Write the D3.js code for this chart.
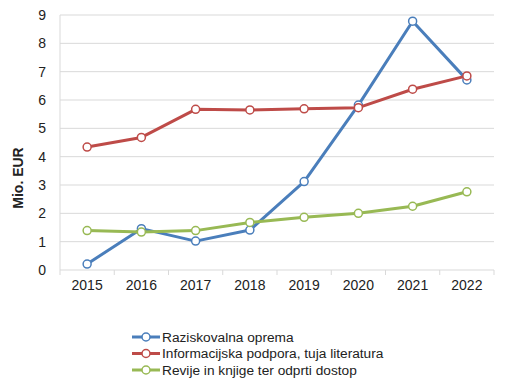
<!DOCTYPE html>
<html><head><meta charset="utf-8">
<script src="https://cdn.jsdelivr.net/npm/d3@7"></script>
<style>body{margin:0;background:#fff}svg{display:block}text{font-family:"Liberation Sans",Arial,sans-serif;fill:#222}</style>
</head><body><svg id="c" width="509" height="385"></svg>
<script>
const years = ["2015","2016","2017","2018","2019","2020","2021","2022"];
const seriesNames = ["Raziskovalna oprema","Informacijska podpora, tuja literatura","Revije in knjige ter odprti dostop"];
const raziskovalna = [0.21,1.46,1.02,1.41,3.12,5.82,8.78,6.71];
const informacijska = [4.34,4.68,5.67,5.65,5.69,5.73,6.38,6.85];
const revije = [1.39,1.34,1.39,1.68,1.86,2.00,2.25,2.76];
const yTicks = [0,1,2,3,4,5,6,7,8,9];
const colors = ["#4A7EBB","#BE4B48","#98B954"];

const svg = d3.select("#c");
const L=60,R=494,T=15,B=270;
const x = d3.scaleBand().domain(years).range([L,R]);
const y = d3.scaleLinear().domain([0,9]).range([B,T]);

svg.append("g").selectAll("line").data(yTicks.filter(d=>d>0)).join("line")
 .attr("x1",L).attr("x2",R).attr("y1",d=>y(d)).attr("y2",d=>y(d))
 .attr("stroke","#d9d9d9").attr("stroke-width",1);
svg.append("line").attr("x1",L).attr("x2",L).attr("y1",T).attr("y2",B).attr("stroke","#d9d9d9");
svg.append("line").attr("x1",L).attr("x2",R).attr("y1",B).attr("y2",B).attr("stroke","#d9d9d9");
svg.append("g").selectAll("line").data(d3.range(years.length+1)).join("line")
 .attr("x1",i=>L+i*x.bandwidth()).attr("x2",i=>L+i*x.bandwidth()).attr("y1",B).attr("y2",B+5)
 .attr("stroke","#d9d9d9");
svg.append("g").selectAll("text").data(yTicks).join("text")
 .attr("x",L-14).attr("y",d=>y(d)).attr("dy","0.35em").attr("text-anchor","end")
 .attr("font-size",14).text(d=>d);
svg.append("g").selectAll("text").data(years).join("text")
 .attr("x",d=>x(d)+x.bandwidth()/2).attr("y",B+20).attr("text-anchor","middle")
 .attr("font-size",14).text(d=>d);
svg.append("text").attr("transform","translate(23,178) rotate(-90)").attr("text-anchor","middle")
 .attr("font-weight","bold").attr("font-size",14).text("Mio. EUR");

const data=[raziskovalna,informacijska,revije];
const line=d3.line().x((d,i)=>x(years[i])+x.bandwidth()/2).y(d=>y(d));
data.forEach((s,k)=>{
  const g=svg.append("g");
  g.append("path").attr("d",line(s)).attr("fill","none").attr("stroke",colors[k]).attr("stroke-width",3).attr("stroke-linejoin","round");
  g.selectAll("circle").data(s).join("circle").attr("cx",(d,i)=>x(years[i])+x.bandwidth()/2).attr("cy",d=>y(d))
   .attr("r",4).attr("fill","#fff").attr("stroke",colors[k]).attr("stroke-width",1.5);
});
const lg=svg.append("g");
seriesNames.forEach((n,k)=>{
  const yy=337+k*16.5;
  lg.append("line").attr("x1",132).attr("x2",160).attr("y1",yy).attr("y2",yy).attr("stroke",colors[k]).attr("stroke-width",3);
  lg.append("circle").attr("cx",146).attr("cy",yy).attr("r",4).attr("fill","#fff").attr("stroke",colors[k]).attr("stroke-width",1.5);
  lg.append("text").attr("x",162).attr("y",yy).attr("dy","0.35em").attr("font-size",13.7).text(n);
});
</script></body></html>
